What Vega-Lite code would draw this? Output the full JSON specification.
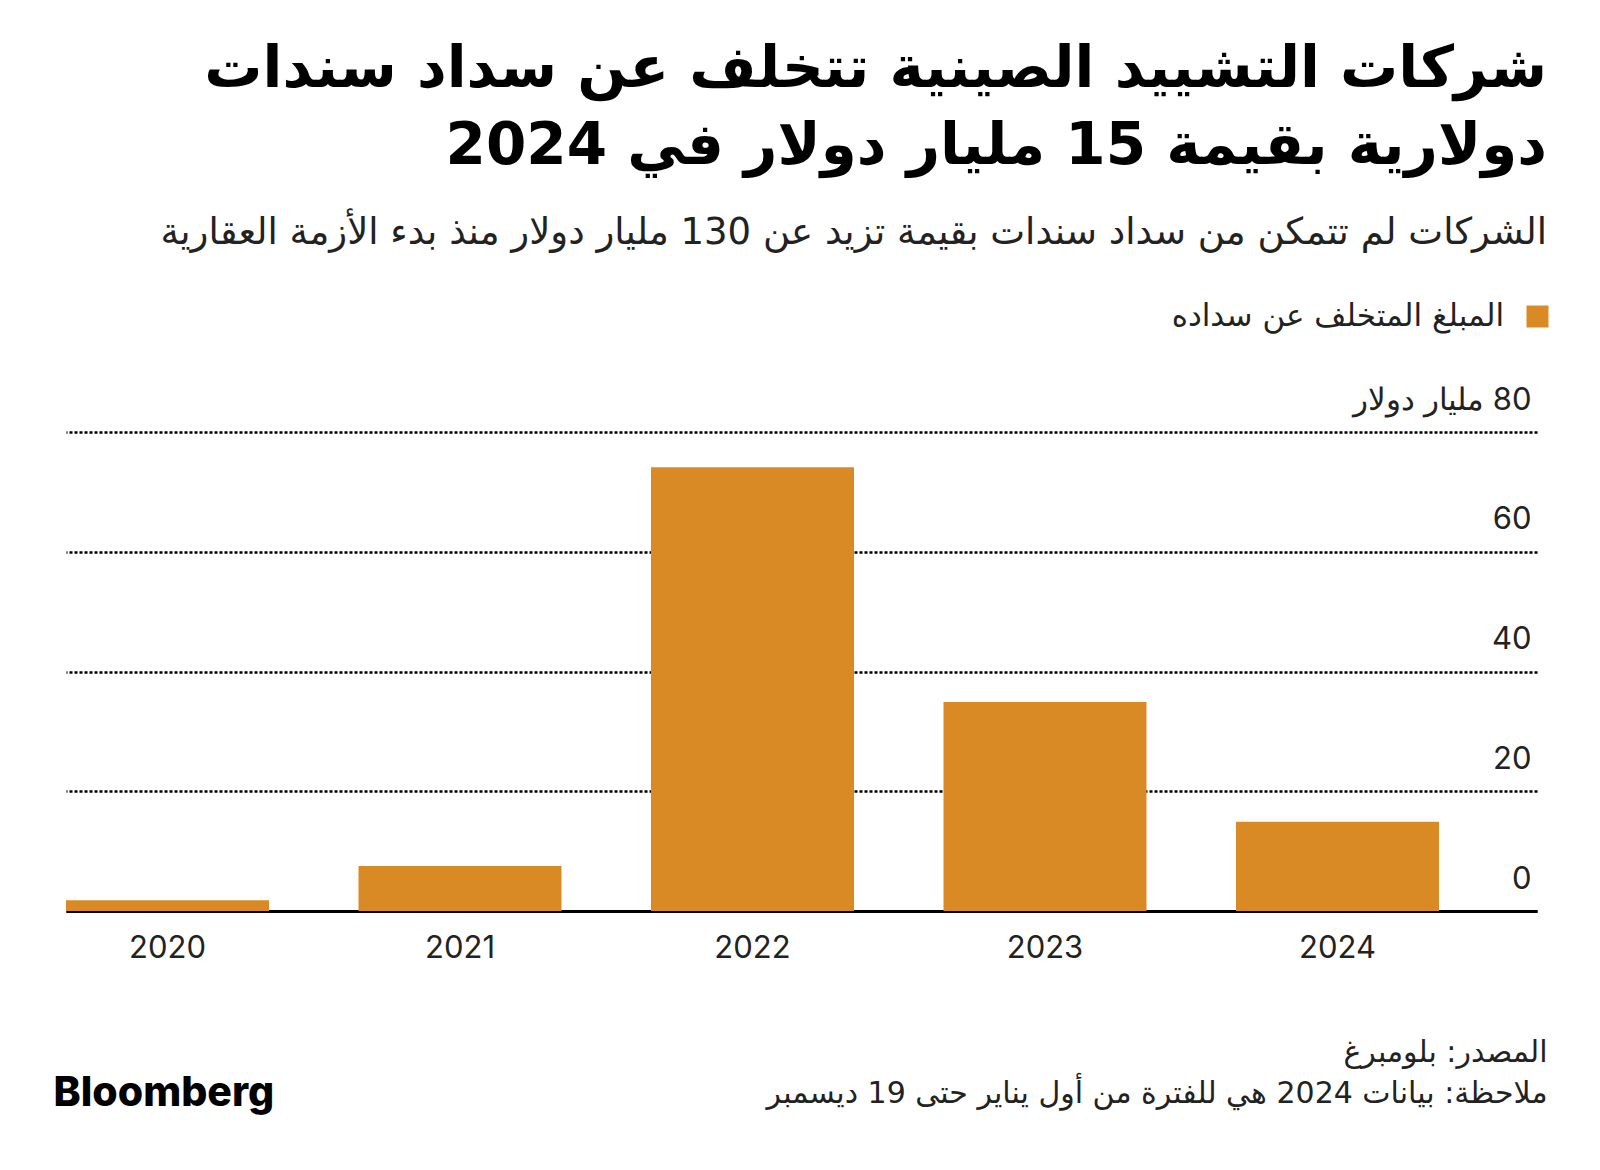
{
  "$schema": "https://vega.github.io/schema/vega-lite/v6.json",
  "width": 1471,
  "height": 479,
  "autosize": {"type": "none"},
  "padding": {"left": 66, "top": 432, "right": 63, "bottom": 259},
  "background": "#ffffff",
  "title": {
    "text": ["شركات التشييد الصينية تتخلف عن سداد سندات", "دولارية بقيمة 15 مليار دولار في 2024"],
    "subtitle": "الشركات لم تتمكن من سداد سندات بقيمة تزيد عن 130 مليار دولار منذ بدء الأزمة العقارية",
    "anchor": "end",
    "frame": "group",
    "dx": 10,
    "offset": 50,
    "font": "DejaVu Sans",
    "fontSize": 58,
    "fontWeight": "bold",
    "color": "#000000",
    "lineHeight": 77,
    "subtitleFont": "DejaVu Sans",
    "subtitleFontSize": 37,
    "subtitleColor": "#222222",
    "subtitlePadding": 39
  },
  "data": {
    "values": [
      {"year": "2020", "amount": 1.8, "series": "المبلغ المتخلف عن سداده"},
      {"year": "2021", "amount": 7.5, "series": "المبلغ المتخلف عن سداده"},
      {"year": "2022", "amount": 74.1, "series": "المبلغ المتخلف عن سداده"},
      {"year": "2023", "amount": 34.9, "series": "المبلغ المتخلف عن سداده"},
      {"year": "2024", "amount": 14.9, "series": "المبلغ المتخلف عن سداده"}
    ]
  },
  "mark": {"type": "bar", "opacity": 1},
  "encoding": {
    "x": {
      "field": "year",
      "type": "nominal",
      "sort": null,
      "scale": {"paddingInner": 0.306, "paddingOuter": 0.1675, "align": 0},
      "axis": {
        "title": ["المصدر: بلومبرغ", "ملاحظة: بيانات 2024 هي للفترة من أول يناير حتى 19 ديسمبر"],
        "titleX": 1481,
        "titleY": 150,
        "titleAlign": "right",
        "titleAnchor": "end",
        "titleBaseline": "alphabetic",
        "titleLineHeight": 41,
        "titleFont": "DejaVu Sans",
        "titleFontSize": 30,
        "titleFontWeight": "normal",
        "titleColor": "#222222",
        "labelAngle": 0,
        "labelFont": "Inter",
        "labelFontSize": 31,
        "labelColor": "#222222",
        "labelPadding": 22,
        "ticks": false,
        "domain": true,
        "domainColor": "#000000",
        "domainWidth": 3,
        "grid": false
      }
    },
    "y": {
      "field": "amount",
      "type": "quantitative",
      "scale": {"domain": [0, 80], "nice": false},
      "axis": {
        "orient": "right",
        "values": [0, 20, 40, 60, 80],
        "labelExpr": "datum.value === 80 ? '\u200f80 مليار دولار' : datum.label",
        "labelAlign": "right",
        "labelBaseline": "alphabetic",
        "labelPadding": -6,
        "labelOffset": -23,
        "labelFont": "Inter",
        "labelFontSize": 31,
        "labelColor": "#222222",
        "ticks": false,
        "domain": false,
        "grid": true,
        "gridColor": "#000000",
        "gridDash": [3, 2],
        "gridWidth": 2.5,
        "title": "Bloomberg",
        "titleAngle": 0,
        "titleX": -1484,
        "titleY": 673,
        "titleAlign": "left",
        "titleBaseline": "alphabetic",
        "titleFont": "Inter",
        "titleFontSize": 41,
        "titleFontWeight": 800,
        "titleColor": "#000000"
      }
    },
    "color": {
      "field": "series",
      "type": "nominal",
      "scale": {"range": ["#DA8A25"]},
      "legend": {
        "title": null,
        "orient": "none",
        "legendX": 1456,
        "legendY": -131,
        "direction": "horizontal",
        "symbolType": "square",
        "symbolSize": 484,
        "symbolStrokeWidth": 0,
        "symbolOpacity": 1,
        "labelAlign": "right",
        "labelOffset": -49,
        "labelFont": "DejaVu Sans",
        "labelFontSize": 31,
        "labelColor": "#222222",
        "labelLimit": 800,
        "padding": 0
      }
    }
  },
  "config": {"view": {"stroke": null}}
}
